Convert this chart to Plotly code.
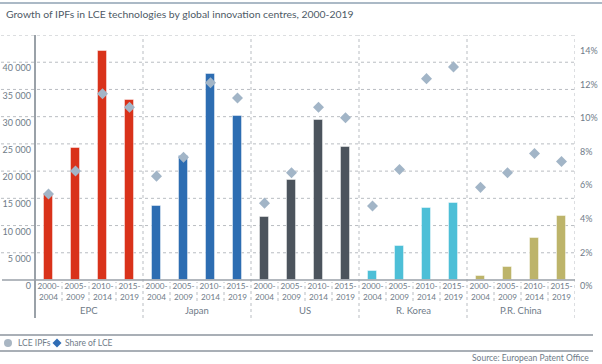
import plotly.graph_objects as go

# ---- data ----
regions = ["EPC", "Japan", "US", "R. Korea", "P.R. China"]
periods = ["2000-<br>2004", "2005-<br>2009", "2010-<br>2014", "2015-<br>2019"]
ipf_epc = [15800, 24300, 42000, 33000]
ipf_japan = [13600, 22700, 37900, 30200]
ipf_us = [11500, 18400, 29400, 24500]
ipf_korea = [1600, 6200, 13200, 14100]
ipf_china = [700, 2300, 7700, 11800]
share_epc = [0.0513, 0.0649, 0.111, 0.103]
share_japan = [0.0619, 0.0732, 0.1175, 0.1085]
share_us = [0.0458, 0.0639, 0.103, 0.0967]
share_korea = [0.0441, 0.0658, 0.120, 0.127]
share_china = [0.0552, 0.0639, 0.0754, 0.0706]
left_ticks = [0, 5000, 10000, 15000, 20000, 25000, 30000, 35000, 40000]
left_labels = ["0", "5 000", "10 000", "15 000", "20 000", "25 000", "30 000", "35 000", "40 000"]
right_ticks = [0, 0.02, 0.04, 0.06, 0.08, 0.10, 0.12, 0.14]
right_labels = ["0%", "2%", "4%", "6%", "8%", "10%", "12%", "14%"]
grid_values = [5000, 10000, 15000, 20000, 25000, 30000, 35000, 40000, 45000]

ipfs = [ipf_epc, ipf_japan, ipf_us, ipf_korea, ipf_china]
shares = [share_epc, share_japan, share_us, share_korea, share_china]
colors = ["#d9321a", "#2d6db2", "#4c545d", "#4dbfd7", "#bdb46a"]

W, H = 602, 364
L, R, T, B = 35, 27, 35, 84
PW, PH = W - L - R, H - T - B
FONT = "Lato"
TXT = "#6f7b88"

def px(x):
    return (x - L) / PW

def py(y):
    return (H - B - y) / PH

fig = go.Figure()
n = len(periods)
all_x, all_labels = [], []
for g, reg in enumerate(regions):
    xs = [g * n + i + 0.5 for i in range(n)]
    all_x += xs
    all_labels += periods
    fig.add_trace(go.Bar(x=xs, y=ipfs[g], width=0.31, marker=dict(color=colors[g],
                         line=dict(color="rgba(255,255,255,0.45)", width=1)),
                         showlegend=False, name=reg))
for g, reg in enumerate(regions):
    xs = [g * n + i + 0.5 for i in range(n)]
    fig.add_trace(go.Scatter(x=xs, y=shares[g], yaxis="y2", mode="markers",
                             marker=dict(symbol="diamond", size=8.5, color="#a2b5c7"),
                             showlegend=False, name=reg))

shapes = []
for v in grid_values:
    shapes.append(dict(type="line", xref="paper", yref="y", x0=px(1), x1=1, y0=v, y1=v,
                       line=dict(color="#b9bdc2", width=1, dash="dot"), layer="below"))
for g in range(1, len(regions) + 1):
    shapes.append(dict(type="line", xref="x", yref="paper", x0=g * n, x1=g * n,
                       y0=py(318), y1=1, line=dict(color="#b9bdc2", width=1, dash="dot")))
for g in range(len(regions)):
    for i in range(1, n):
        shapes.append(dict(type="line", xref="x", yref="paper", x0=g * n + i, x1=g * n + i,
                           y0=py(301), y1=py(282), line=dict(color="#b9bdc2", width=1, dash="dot")))
shapes.append(dict(type="line", xref="paper", yref="paper", x0=0, x1=0, y0=py(318), y1=1,
                   line=dict(color="#9aa1a8", width=2)))
shapes.append(dict(type="line", xref="paper", yref="paper", x0=px(2), x1=1, y0=0, y1=0,
                   line=dict(color="#9aa1a8", width=1.5)))
shapes.append(dict(type="line", xref="paper", yref="paper", x0=px(0), x1=px(W), y0=py(3), y1=py(3),
                   line=dict(color="#8fa2b3", width=1.5)))
for yy in (335, 351):
    shapes.append(dict(type="line", xref="paper", yref="paper", x0=px(0), x1=px(593), y0=py(yy), y1=py(yy),
                       line=dict(color="#8c959e", width=1.5)))
shapes.append(dict(type="circle", xref="paper", yref="paper", x0=px(4), x1=px(12), y0=py(347), y1=py(339),
                   fillcolor="#a9b6c3", line=dict(width=0)))
cx, cy, d = 57, 343, 4.5
shapes.append(dict(type="path", xref="paper", yref="paper",
                   path=f"M {px(cx)} {py(cy-d)} L {px(cx+d)} {py(cy)} L {px(cx)} {py(cy+d)} L {px(cx-d)} {py(cy)} Z",
                   fillcolor="#2f6db5", line=dict(width=0)))

annotations = []
for g, reg in enumerate(regions):
    annotations.append(dict(x=g * n + n / 2, y=py(310), xref="x", yref="paper", text=reg,
                            showarrow=False, font=dict(size=9.5, color=TXT, family=FONT),
                            xanchor="center", yanchor="middle"))
annotations.append(dict(x=px(16), y=py(343), xref="paper", yref="paper", text="LCE IPFs", showarrow=False,
                        font=dict(size=8.5, color=TXT, family=FONT), xanchor="left", yanchor="middle"))
annotations.append(dict(x=px(63), y=py(343), xref="paper", yref="paper", text="Share of LCE", showarrow=False,
                        font=dict(size=8.5, color=TXT, family=FONT), xanchor="left", yanchor="middle"))
annotations.append(dict(x=px(591), y=py(358), xref="paper", yref="paper", text="Source: European Patent Office",
                        showarrow=False, font=dict(size=8.5, color=TXT, family=FONT), xanchor="right", yanchor="middle"))

fig.update_layout(
    width=W, height=H, margin=dict(l=L, r=R, t=T, b=B, autoexpand=False),
    paper_bgcolor="white", plot_bgcolor="white",
    title=dict(text="Growth of IPFs in LCE technologies by global innovation centres, 2000-2019",
               x=6 / W, xanchor="left", xref="container", y=1 - 14 / H, yanchor="middle", yref="container",
               font=dict(size=10.4, color="#4e5a66", family=FONT)),
    xaxis=dict(range=[0, len(regions) * n], tickvals=all_x, ticktext=all_labels, showgrid=False,
               zeroline=False, showline=False, ticks="", tickangle=0, automargin=False,
               tickfont=dict(size=8.2, color=TXT, family=FONT)),
    yaxis=dict(range=[0, 45000], tickvals=left_ticks, ticktext=left_labels, showgrid=False,
               zeroline=False, showline=False, ticks="", ticklabelshift=6, ticklabelstandoff=3, automargin=False,
               tickfont=dict(size=9, color=TXT, family=FONT)),
    yaxis2=dict(range=[0, 0.146], overlaying="y", side="right", tickvals=right_ticks, ticktext=right_labels,
                showgrid=False, zeroline=False, showline=False, ticks="", ticklabelshift=6, ticklabelstandoff=4,
                automargin=False, tickfont=dict(size=9, color=TXT, family=FONT)),
    shapes=shapes, annotations=annotations, bargap=0, showlegend=False,
)
fig.write_html("out.html", config={"displayModeBar": False},
               post_script="document.body.style.margin='0px';")
